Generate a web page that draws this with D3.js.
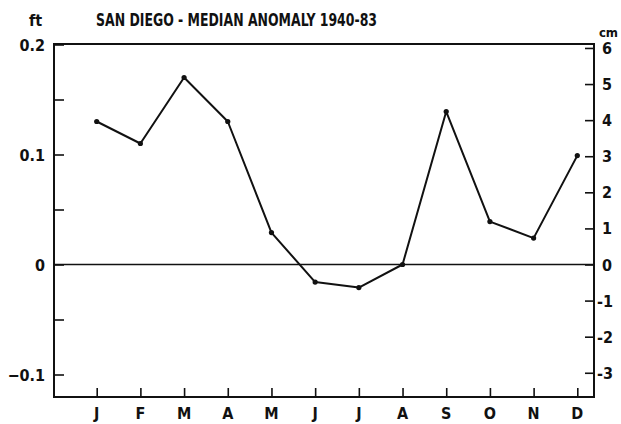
<!DOCTYPE html>
<html>
<head>
<meta charset="utf-8">
<script src="https://cdn.jsdelivr.net/npm/d3@7"></script>
<style>
  body { margin:0; background:#fff; }
  text { font-family:"DejaVu Sans Condensed","Liberation Sans Narrow",sans-serif; fill:#111; font-weight:bold; }
</style>
</head>
<body>
<svg id="graph"></svg>
<script>
// monthly median anomaly, San Diego 1940-83 (ft)
var months = ["J","F","M","A","M","J","J","A","S","O","N","D"];
var anomaly = [0.130, 0.110, 0.170, 0.130, 0.029, -0.016, -0.021, 0.000, 0.139, 0.039, 0.024, 0.099];
var ftTicks = [0.2, 0.15, 0.1, 0.05, 0, -0.05, -0.1];
var ftLabels = [0.2, 0.1, 0, -0.1];
var cmTicks = [6, 5, 4, 3, 2, 1, 0, -1, -2, -3];

var screen = {width:621, height:424};
var box = {left:54, right:594, top:44, bottom:397};

var svg = d3.select("#graph")
    .attr("width", screen.width)
    .attr("height", screen.height);

var xScale = d3.scaleLinear()
    .domain([0, 11])
    .range([96.7, 577.3]);

var yScale = d3.scaleLinear()
    .domain([0, 0.2])
    .range([264.5, 44.5]);

// right axis in cm, same zero
var cmScale = d3.scaleLinear()
    .domain([0, 0.2 * 30.48])
    .range([264.5, 44.5]);

var ink = "#111";

// frame
svg.append("rect")
    .attr("x", box.left).attr("y", box.top)
    .attr("width", box.right - box.left)
    .attr("height", box.bottom - box.top)
    .attr("fill", "none")
    .attr("stroke", ink)
    .attr("stroke-width", 2);

// zero line
svg.append("line")
    .attr("x1", box.left).attr("x2", box.right)
    .attr("y1", yScale(0)).attr("y2", yScale(0))
    .attr("stroke", ink).attr("stroke-width", 1.5);

// left axis (ft)
var leftAxis = d3.axisRight(yScale)
    .tickValues(ftTicks)
    .tickSize(10)
    .tickFormat("");
svg.append("g")
    .attr("transform", "translate(" + box.left + ",0)")
    .call(leftAxis)
    .call(function(g){ g.select(".domain").remove(); })
    .selectAll("line").attr("stroke", ink).attr("stroke-width", 1.6);

svg.append("g").selectAll("text")
    .data(ftLabels)
    .enter().append("text")
    .attr("x", 45)
    .attr("y", function(d){ return yScale(d) + 6; })
    .attr("text-anchor", "end")
    .attr("font-size", 16)
    .text(function(d){ return d == 0 ? "0" : d3.format(".1f")(d); });

// right axis (cm)
var rightAxis = d3.axisLeft(cmScale)
    .tickValues(cmTicks)
    .tickSize(9)
    .tickFormat("");
svg.append("g")
    .attr("transform", "translate(" + box.right + ",0)")
    .call(rightAxis)
    .call(function(g){ g.select(".domain").remove(); })
    .selectAll("line").attr("stroke", ink).attr("stroke-width", 1.6);

svg.append("g").selectAll("text")
    .data(cmTicks)
    .enter().append("text")
    .attr("x", function(d){ return d < 0 ? 597 : 602; })
    .attr("y", function(d){ return cmScale(d) + 6; })
    .attr("font-size", 16)
    .text(function(d){ return d; });

// month axis
var bottomAxis = d3.axisTop(xScale)
    .tickValues(d3.range(12))
    .tickSize(9)
    .tickFormat("");
svg.append("g")
    .attr("transform", "translate(0," + box.bottom + ")")
    .call(bottomAxis)
    .call(function(g){ g.select(".domain").remove(); })
    .selectAll("line").attr("stroke", ink).attr("stroke-width", 1.6);

svg.append("g").selectAll("text")
    .data(months)
    .enter().append("text")
    .attr("x", function(d, i){ return xScale(i); })
    .attr("y", 419)
    .attr("text-anchor", "middle")
    .attr("font-size", 16)
    .text(function(d){ return d; });

// data line
var line = d3.line()
    .x(function(d, i){ return xScale(i); })
    .y(function(d){ return yScale(d); });

svg.append("path")
    .datum(anomaly)
    .attr("d", line)
    .attr("fill", "none")
    .attr("stroke", ink)
    .attr("stroke-width", 2)
    .attr("stroke-linejoin", "round");

svg.append("g").selectAll("circle")
    .data(anomaly)
    .enter().append("circle")
    .attr("cx", function(d, i){ return xScale(i); })
    .attr("cy", function(d){ return yScale(d); })
    .attr("r", 2.6)
    .attr("fill", ink);

// titles
svg.append("text")
    .attr("x", 29).attr("y", 26)
    .attr("font-size", 16)
    .text("ft");
svg.append("text")
    .attr("x", 96).attr("y", 26)
    .attr("font-size", 17)
    .attr("textLength", 281)
    .attr("lengthAdjust", "spacingAndGlyphs")
    .text("SAN DIEGO - MEDIAN ANOMALY 1940-83");
svg.append("text")
    .attr("x", 618).attr("y", 37)
    .attr("text-anchor", "end")
    .attr("font-size", 13)
    .text("cm");
</script>
</body>
</html>
